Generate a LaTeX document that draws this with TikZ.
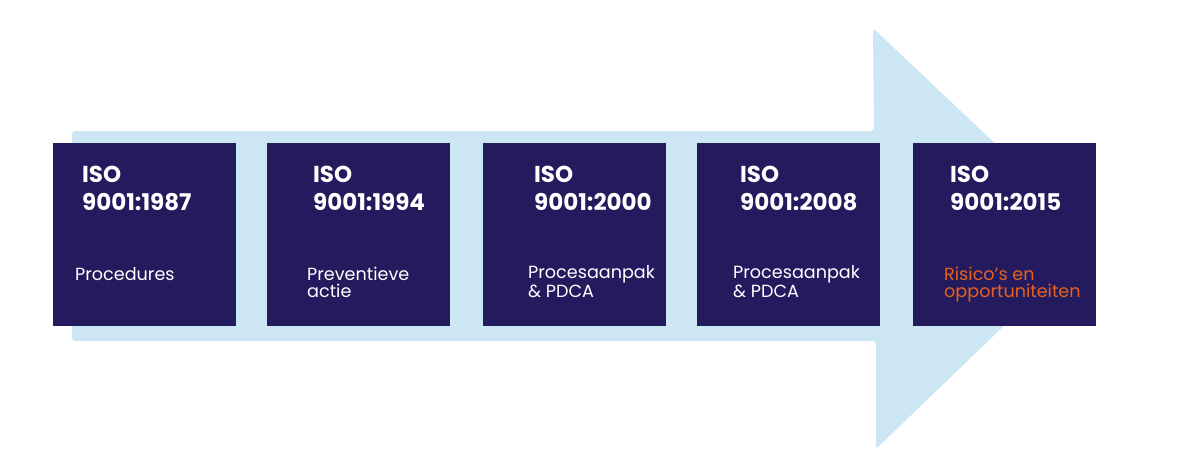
\documentclass[tikz,border=0pt]{standalone}
\usepackage{fontspec}
\setmainfont{Poppins}
\definecolor{navy}{HTML}{231B5E}
\definecolor{lightblue}{HTML}{CDE6F4}
\definecolor{orng}{HTML}{E8601C}
\begin{document}
\begin{tikzpicture}[x=1pt,y=-1pt,
  box/.style={fill=navy,draw=none,minimum width=183pt,minimum height=183pt,inner sep=0pt,anchor=north west},
  ttl/.style={text=white,font=\fontsize{23}{28}\selectfont\bfseries,align=left,anchor=base west,inner sep=0pt},
  lbl/.style={text=white,font=\fontsize{17.6}{17}\selectfont,align=left,anchor=base west,inner sep=0pt}]
\useasboundingbox (0,0) rectangle (1200,464);
\fill[lightblue,rounded corners=3pt] (72,131) -- (874,131) -- (873,28) -- (1095,238) -- (876,449) -- (876,341) -- (72,341) -- cycle;
\node[box] (b1) at (53,143) {};
\node[box] (b2) at (267,143) {};
\node[box] (b3) at (483,143) {};
\node[box] (b4) at (697,143) {};
\node[box] (b5) at (913,143) {};
\node[ttl] (t1) at (82,210) {ISO\\9001:1987};
\node[ttl] (t2) at (313,210) {ISO\\9001:1994};
\node[ttl] (t3) at (534,210) {ISO\\9001:2000};
\node[ttl] (t4) at (740,210) {ISO\\9001:2008};
\node[ttl] (t5) at (950,210) {ISO\\9001:2015};
\node[lbl] (l1) at (75,280) {Procedures};
\node[lbl] (l2) at (307,297) {Preventieve\\actie};
\node[lbl] (l3) at (528,297) {Procesaanpak\\\& PDCA};
\node[lbl] (l4) at (733,297) {Procesaanpak\\\& PDCA};
\node[lbl,text=orng] (l5) at (944,297) {Risico’s en\\opportuniteiten};
\end{tikzpicture}
\end{document}
